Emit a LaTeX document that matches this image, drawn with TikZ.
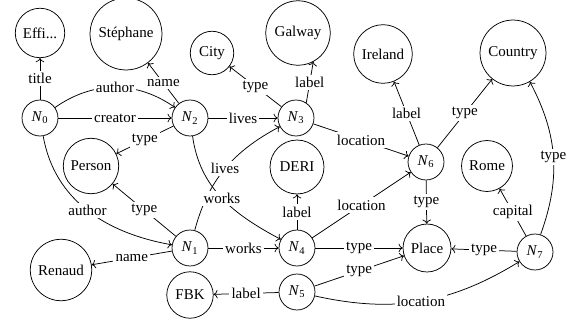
\documentclass[tikz,border=0pt]{standalone}
\usepackage{fontspec}
\setmainfont{Liberation Serif}
\usetikzlibrary{arrows.meta}

\newcommand{\Nd}[1]{\textit{N}\textsubscript{#1}}

\begin{document}
\begin{tikzpicture}[
        x=0.02345cm, y=0.02345cm,
        line width=0.5pt,
        every node/.style={font=\normalsize},
        ent/.style={circle, draw, inner sep=1pt, minimum size=#1},
        blank/.style={ent=24pt},
        lbl/.style={fill=white, inner sep=1.5pt},
        arrow/.style={->},
    ]
    \useasboundingbox (0,0) rectangle (579,-322);
    \node[ent=33pt] (effi) at (40,-33) {Effi...};
    \node[ent=48pt] (stephane) at (126,-34) {Stéphane};
    \node[ent=29pt] (city) at (212,-53) {City};
    \node[ent=43pt] (galway) at (298,-33) {Galway};
    \node[ent=39pt] (ireland) at (383,-54) {Ireland};
    \node[ent=44pt] (country) at (513,-53) {Country};
    \node[blank] (n0) at (40,-118) {\Nd{0}};
    \node[blank] (n2) at (190,-118) {\Nd{2}};
    \node[blank] (n3) at (296,-118) {\Nd{3}};
    \node[ent=37pt] (person) at (91,-166) {Person};
    \node[ent=36pt] (deri) at (297,-167) {DERI};
    \node[blank] (n6) at (426,-162) {\Nd{6}};
    \node[ent=34pt] (rome) at (487,-166) {Rome};
    \node[ent=41pt] (renaud) at (61,-270) {Renaud};
    \node[blank] (n1) at (190,-248) {\Nd{1}};
    \node[blank] (n4) at (297,-248) {\Nd{4}};
    \node[ent=32pt] (place) at (427,-248) {Place};
    \node[blank] (n7) at (535,-252) {\Nd{7}};
    \node[ent=31pt] (fbk) at (190,-295) {FBK};
    \node[blank] (n5) at (297,-292) {\Nd{5}};
    \draw[arrow] (n0) -- node[lbl] {title} (effi);
    \draw[arrow] (n0) to[bend left=35] node[lbl] {author} (n2);
    \draw[arrow] (n0) -- node[lbl] {creator} (n2);
    \draw[arrow] (n0) to[out=-80, in=170] node[lbl] {author} (n1);
    \draw[arrow] (n2) -- node[lbl] {name} (stephane);
    \draw[arrow] (n2) -- node[lbl] {type} (person);
    \draw[arrow] (n2) -- node[lbl] {lives} (n3);
    \draw[arrow] (n1) to[out=75, in=208] node[lbl, pos=0.5] {lives} (n3);
    \draw[arrow] (n2) to[out=-82, in=152] node[lbl, pos=0.5] {works} (n4);
    \draw[arrow] (n3) -- node[lbl] {type} (city);
    \draw[arrow] (n3.56) -- node[lbl] {label} (galway.-62);
    \draw[arrow] (n3) -- node[lbl] {location} (n6);
    \draw[arrow] (n1) -- node[lbl] {type} (person);
    \draw[arrow] (n1) -- node[lbl] {name} (renaud);
    \draw[arrow] (n1) -- node[lbl] {works} (n4);
    \draw[arrow] (n4) -- node[lbl] {label} (deri);
    \draw[arrow] (n4) -- node[lbl] {location} (n6);
    \draw[arrow] (n4) -- node[lbl] {type} (place);
    \draw[arrow] (n5) -- node[lbl] {label} (fbk);
    \draw[arrow] (n5) -- node[lbl] {type} (place);
    \draw[arrow] (n5) to[bend right=22] node[lbl] {location} (n7);
    \draw[arrow] (n6) -- node[lbl] {label} (ireland);
    \draw[arrow] (n6) -- node[lbl] {type} (country);
    \draw[arrow] (n6) -- node[lbl] {type} (place);
    \draw[arrow] (n7) -- node[lbl] {type} (place);
    \draw[arrow] (n7) -- node[lbl] {capital} (rome);
    \draw[arrow] (n7) to[bend right=24] node[lbl] {type} (country);
\end{tikzpicture}
\end{document}
